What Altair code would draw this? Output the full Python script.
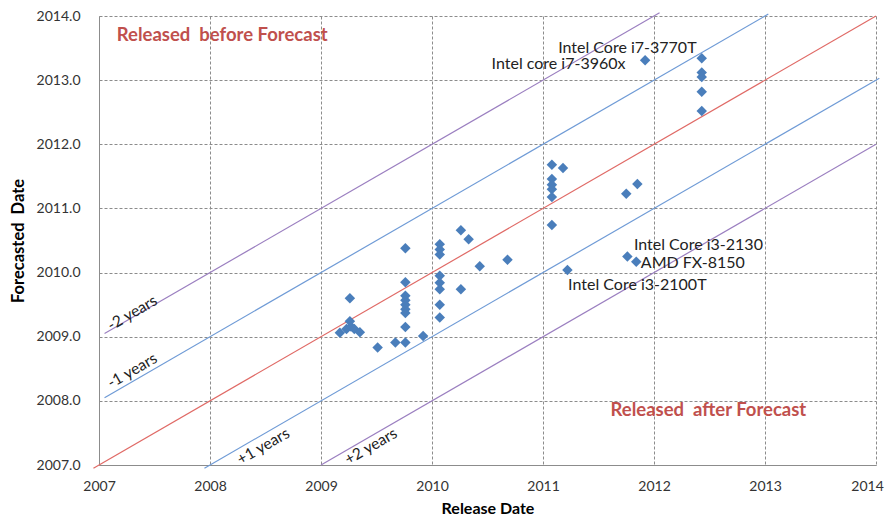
import altair as alt
import pandas as pd

# --- data ---
release = [
    2009.26, 2009.17, 2009.23, 2009.26, 2009.27, 2009.30, 2009.35,
    2009.51, 2009.67, 2009.76, 2009.92,
    2009.76, 2009.76, 2009.76, 2009.76, 2009.76, 2009.76, 2009.76, 2009.76,
    2010.07, 2010.07, 2010.07, 2010.07, 2010.07, 2010.07, 2010.07, 2010.07,
    2010.26, 2010.33, 2010.26, 2010.43, 2010.68,
    2011.08, 2011.08, 2011.08, 2011.08, 2011.08, 2011.08,
    2011.18, 2011.22,
    2011.75, 2011.85, 2011.76, 2011.84,
    2011.92,
    2012.43, 2012.43, 2012.43, 2012.43, 2012.43,
]
forecast = [
    2009.60, 2009.06, 2009.12, 2009.24, 2009.16, 2009.12, 2009.07,
    2008.83, 2008.91, 2008.91, 2009.01,
    2010.38, 2009.85, 2009.64, 2009.57, 2009.50, 2009.43, 2009.37, 2009.15,
    2010.44, 2010.36, 2010.28, 2009.95, 2009.84, 2009.74, 2009.50, 2009.30,
    2010.66, 2010.52, 2009.74, 2010.10, 2010.20,
    2011.68, 2011.46, 2011.37, 2011.30, 2011.18, 2010.74,
    2011.63, 2010.04,
    2011.23, 2011.38, 2010.25, 2010.17,
    2013.31,
    2013.34, 2013.12, 2013.05, 2012.82, 2012.52,
]

# reference lines (offset in years)
line_ids = ["p2", "b1", "r0", "b-1", "p-2"]
line_x1 = [2007.05, 2007.05, 2006.95, 2007.95, 2009.0]
line_y1 = [2009.05, 2008.05, 2006.95, 2006.95, 2007.0]
line_x2 = [2012.05, 2013.03, 2014.0, 2014.03, 2014.0]
line_y2 = [2014.05, 2014.03, 2014.0, 2013.03, 2012.0]
line_colors = ["#9B7FC0", "#6F9BD6", "#E06A66", "#6F9BD6", "#9B7FC0"]

# line labels
ll_text = ["-2 years", "-1 years", "+1 years", "+2 years"]
ll_x = [2007.30, 2007.30, 2008.48, 2009.45]
ll_y = [2009.37, 2008.47, 2007.29, 2007.29]

# CPU annotations
cpu_text = ["Intel Core i7-3770T", "Intel core i7-3960x", "Intel Core i3-2130",
            "AMD FX-8150", "Intel Core i3-2100T"]
cpu_x = [2011.76, 2011.14, 2012.40, 2012.35, 2011.85]
cpu_y = [2013.50, 2013.25, 2010.43, 2010.15, 2009.81]

# region annotations
NB = "\u00a0"
reg_text = ["Released" + NB + NB + "before Forecast", "Released" + NB + NB + "after Forecast"]
reg_x = [2008.11, 2012.49]
reg_y = [2013.71, 2007.85]

x_ticks = [2007, 2008, 2009, 2010, 2011, 2012, 2013, 2014]
y_ticks = [2007, 2008, 2009, 2010, 2011, 2012, 2013, 2014]

FONT = "Lato"

xs = alt.Scale(domain=[2007, 2014], nice=False, zero=False)
ys = alt.Scale(domain=[2007, 2014], nice=False, zero=False)

x_axis = alt.Axis(values=x_ticks, format="d", grid=True, gridDash=[3, 2],
                  gridColor="#8c8c8c", domainColor="#8c8c8c", ticks=False,
                  labelPadding=14, labelFontSize=14, labelFont=FONT,
                  labelColor="#333333", labelFlush=False, labelOverlap=False,
                  labelBound=False,
                  labelOffset={"condition": {"test": "datum.value == 2014", "value": -9},
                               "value": 0},
                  title="Release Date", titleFont=FONT,
                  titleFontSize=16, titleFontWeight="bold", titlePadding=7,
                  titleColor="#000000")
y_axis = alt.Axis(values=y_ticks, format=".1f", grid=True, gridDash=[3, 2],
                  gridColor="#8c8c8c", domainColor="#8c8c8c", ticks=False,
                  labelPadding=19, labelFontSize=14, labelFont=FONT,
                  labelColor="#333333", labelFlush=False, labelOverlap=False,
                  title="Forecasted" + NB + NB + "Date", titleFont=FONT,
                  titleFontSize=16.5, titleFontWeight="bold", titlePadding=10,
                  titleColor="#000000")

pts = pd.DataFrame({"release": release, "forecast": forecast})
lines = pd.DataFrame({"id": line_ids, "x1": line_x1, "y1": line_y1,
                      "x2": line_x2, "y2": line_y2})
ll = pd.DataFrame({"t": ll_text, "x": ll_x, "y": ll_y})
cpu = pd.DataFrame({"t": cpu_text, "x": cpu_x, "y": cpu_y})
reg = pd.DataFrame({"t": reg_text, "x": reg_x, "y": reg_y})

base_axes = alt.Chart(pts).mark_point(opacity=0).encode(
    x=alt.X("release:Q", scale=xs, axis=x_axis),
    y=alt.Y("forecast:Q", scale=ys, axis=y_axis),
)

rules = alt.Chart(lines).mark_rule(strokeWidth=1.2).encode(
    x=alt.X("x1:Q", scale=xs), y=alt.Y("y1:Q", scale=ys),
    x2="x2:Q", y2="y2:Q",
    color=alt.Color("id:N", scale=alt.Scale(domain=line_ids, range=line_colors),
                    legend=None),
)

points = alt.Chart(pts).mark_point(shape="diamond", filled=True, size=110,
                                   color="#4A7EBB", opacity=1).encode(
    x=alt.X("release:Q", scale=xs), y=alt.Y("forecast:Q", scale=ys),
)

line_labels = alt.Chart(ll).mark_text(angle=330, font=FONT, fontSize=15.5,
                                      color="#222222", align="center",
                                      baseline="middle").encode(
    x=alt.X("x:Q", scale=xs), y=alt.Y("y:Q", scale=ys), text="t:N")

cpu_labels = alt.Chart(cpu).mark_text(font=FONT, fontSize=16, color="#222222",
                                      align="center", baseline="middle").encode(
    x=alt.X("x:Q", scale=xs), y=alt.Y("y:Q", scale=ys), text="t:N")

reg_labels = alt.Chart(reg).mark_text(font=FONT, fontSize=18.5, fontWeight="bold",
                                      color="#C0504D", align="center",
                                      baseline="middle").encode(
    x=alt.X("x:Q", scale=xs), y=alt.Y("y:Q", scale=ys), text="t:N")

chart = alt.layer(base_axes, rules, points, line_labels, cpu_labels, reg_labels).properties(
    width=777, height=449,
    autosize=alt.AutoSizeParams(type="none"),
    padding={"left": 91, "top": 8, "right": 12, "bottom": 50},
    background="white",
).configure_view(stroke=None)

chart.save("out.html", embed_options={"renderer": "svg", "actions": False})
